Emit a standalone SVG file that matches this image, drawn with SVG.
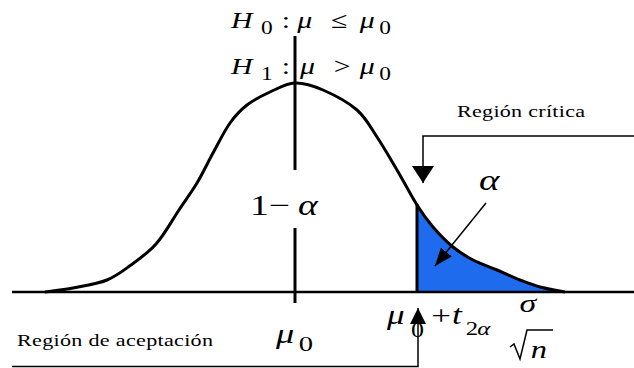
<svg xmlns="http://www.w3.org/2000/svg" width="634" height="368" viewBox="0 0 634 368">
<style>
  .thick { stroke: #000; stroke-width: 3; fill: none; stroke-linecap: butt; }
  .conn { stroke: #000; stroke-width: 1.5; fill: none; }
  .tx { font-family: "Liberation Serif", "Times New Roman", serif; fill: #000; }
  .it { font-style: italic; }
</style>
<defs>
  <marker id="arrowWide" viewBox="0 0 17 22" refX="17" refY="11" markerWidth="17" markerHeight="22" markerUnits="userSpaceOnUse" orient="auto">
    <path d="M0,0 L17,11 L0,22 z" fill="#000"/>
  </marker>
  <marker id="arrowUp" viewBox="0 0 16 16" refX="16" refY="8" markerWidth="16" markerHeight="16" markerUnits="userSpaceOnUse" orient="auto">
    <path d="M0,0 L16,8 L0,16 z" fill="#000"/>
  </marker>
  <marker id="arrowSmall" viewBox="0 0 18 14" refX="18" refY="7" markerWidth="18" markerHeight="14" markerUnits="userSpaceOnUse" orient="auto">
    <path d="M0,0 L18,7 L0,14 z" fill="#000"/>
  </marker>
</defs>
<rect width="634" height="368" fill="#fff"/>

<g id="critical-area">
  <path d="M417,292 L417,205 C423,214.5 427,220 433,227 C439,234 446.3,241.5 453,247 C459.7,252.5 465.7,256.2 473,260 C480.3,263.8 489.2,266.7 497,270 C504.8,273.3 512.8,277.2 520,280 C527.2,282.8 532.5,285 540,287 C547.5,289 560.8,291.2 565,292 Z" fill="#1F6BEE"/>
  <line x1="417" y1="204" x2="417" y2="292" class="thick"/>
</g>

<g id="axis">
  <line x1="12" y1="292" x2="634" y2="292" stroke="#000" stroke-width="2.5"/>
  <line x1="295" y1="36" x2="295" y2="170" class="thick"/>
  <line x1="295" y1="228" x2="295" y2="303" class="thick"/>
</g>

<g id="curve">
  <path class="thick" d="M45,292 C49.7,291.3 62.7,290 73,288 C83.3,286 97.5,284 107,280 C116.5,276 122,271.5 131,265 C140,258.5 148.5,252.5 156,244 C164,235 170.3,223.5 177,213 C183.7,202.5 191,193 197,183 C203,173 207.5,163 213,153 C218.5,143 224.3,131 230,123 C235.7,115 240.3,110.2 247,105 C253.7,99.8 262,95.7 270,92 C278,88.3 286.2,83.3 295,83 C303.8,82.7 312.7,85.5 323,90 C333.3,94.5 348,102.2 357,110 C366,117.8 370.3,127 377,137 C383.7,147 390.3,158.7 397,170 C403.7,181.3 411,195.5 417,205 C423,214.5 427,220 433,227 C439,234 446.3,241.5 453,247 C459.7,252.5 465.7,256.2 473,260 C480.3,263.8 489.2,266.7 497,270 C504.8,273.3 512.8,277.2 520,280 C527.2,282.8 532.5,285 540,287 C547.5,289 560.8,291.2 565,292"/>
</g>

<g id="connectors">
  <polyline class="conn" points="634,136 423,136 423,183" marker-end="url(#arrowWide)"/>
  <polyline class="conn" points="12,366.5 418,366.5 418,308" marker-end="url(#arrowUp)"/>
  <line class="conn" x1="486" y1="203" x2="435" y2="266" stroke-width="1" marker-end="url(#arrowSmall)"/>
</g>

<g id="hypothesis-h0" class="tx" transform="translate(231,0) scale(1.3,1)">
  <text font-size="23"><tspan class="it" x="0" y="28">H</tspan><tspan x="23" y="34" font-size="18">0</tspan><tspan x="39" y="28">:</tspan><tspan class="it" x="51" y="28">μ</tspan><tspan x="77" y="28">≤</tspan><tspan class="it" x="99" y="28">μ</tspan><tspan x="114" y="34" font-size="18">0</tspan></text>
</g>
<g id="hypothesis-h1" class="tx" transform="translate(231,0) scale(1.3,1)">
  <text font-size="23"><tspan class="it" x="0" y="74">H</tspan><tspan x="23" y="80" font-size="18">1</tspan><tspan x="39" y="74">:</tspan><tspan class="it" x="53" y="74">μ</tspan><tspan x="79" y="74">&gt;</tspan><tspan class="it" x="99" y="74">μ</tspan><tspan x="114" y="80" font-size="18">0</tspan></text>
</g>

<g id="acceptance-probability" class="tx" transform="translate(250,0) scale(1.3,1)">
  <text font-size="29"><tspan x="0" y="215">1</tspan><tspan x="14.5" y="215">−</tspan><tspan class="it" x="37" y="215">α</tspan></text>
</g>

<g id="alpha-label" class="tx" transform="translate(479,0) scale(1.3,1)">
  <text class="it" font-size="30" x="0" y="190">α</text>
</g>

<g id="region-critica" class="tx" transform="translate(457,0) scale(1.3,1)">
  <text font-size="17" x="0" y="117" textLength="98.5" lengthAdjust="spacing">Región crítica</text>
</g>

<g id="region-aceptacion" class="tx" transform="translate(17,0) scale(1.3,1)">
  <text font-size="17" x="0" y="346" textLength="150.8" lengthAdjust="spacing">Región de aceptación</text>
</g>

<g id="mu0" class="tx" transform="translate(276,0) scale(1.3,1)">
  <text font-size="28"><tspan class="it" x="0" y="343">μ</tspan><tspan x="17.5" y="351" font-size="22">0</tspan></text>
</g>

<g id="critical-value">
  <g class="tx" transform="translate(387,0) scale(1.3,1)">
    <text font-size="27"><tspan class="it" x="0" y="324">μ</tspan><tspan x="18.5" y="337" font-size="20">0</tspan><tspan x="34" y="325">+</tspan><tspan class="it" x="50" y="324">t</tspan><tspan x="60.5" y="335" font-size="19">2</tspan><tspan class="it" x="69.5" y="335" font-size="19">α</tspan></text>
    <text class="it" font-size="26" x="102" y="312">σ</text>
    <text class="it" font-size="25" x="110.5" y="358">n</text>
  </g>
  <path d="M510,347 L514,344 L520,359 L527,330 L553,330" stroke="#000" stroke-width="1.5" fill="none"/>
</g>
</svg>
